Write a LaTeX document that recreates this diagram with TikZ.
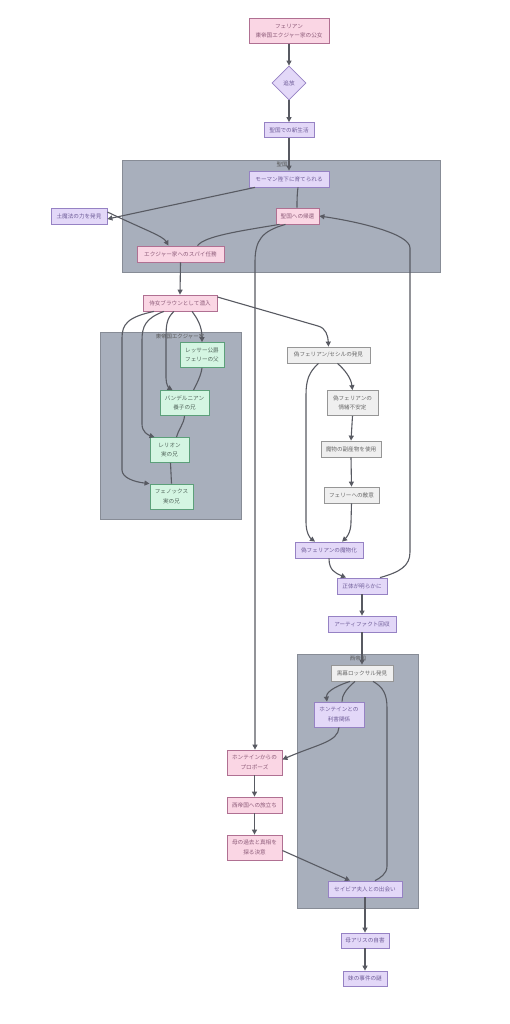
\documentclass[tikz,border=0pt]{standalone}
\usepackage{fontspec}
\setmainfont{Noto Sans CJK JP}
\usetikzlibrary{shapes.geometric,arrows.meta,calc}
\definecolor{pinkfill}{RGB}{250,214,228}
\definecolor{pinkdraw}{RGB}{176,112,146}
\definecolor{pinktext}{RGB}{140,90,120}
\definecolor{lavfill}{RGB}{227,216,248}
\definecolor{lavdraw}{RGB}{150,130,196}
\definecolor{lavtext}{RGB}{110,92,152}
\definecolor{grnfill}{RGB}{212,245,226}
\definecolor{grndraw}{RGB}{92,160,122}
\definecolor{grntext}{RGB}{80,100,90}
\definecolor{gryfill}{RGB}{239,239,239}
\definecolor{grydraw}{RGB}{150,150,150}
\definecolor{grytext}{RGB}{105,105,105}
\definecolor{clfill}{RGB}{168,175,188}
\definecolor{cldraw}{RGB}{135,140,150}
\definecolor{edgec}{RGB}{88,90,98}
\tikzset{
  base/.style={draw, line width=0.8pt, inner sep=0pt, align=center, font=\fontsize{5.6}{9.5}\selectfont},
  pinkbox/.style={base, fill=pinkfill, draw=pinkdraw, text=pinktext},
  lavbox/.style={base, fill=lavfill, draw=lavdraw, text=lavtext},
  grnbox/.style={base, fill=grnfill, draw=grndraw, text=grntext},
  grybox/.style={base, fill=gryfill, draw=grydraw, text=grytext},
  cluster/.style={draw=cldraw, fill=clfill, line width=0.6pt},
  cllabel/.style={font=\fontsize{5.4}{6}\selectfont, text=black!65, inner sep=0pt},
  arr/.style={draw=edgec, line width=1.1pt, -{Triangle[length=5pt,width=5pt]}},
  lnk/.style={draw=edgec, line width=1.1pt},
}
\begin{document}
\begin{tikzpicture}[x=1pt,y=-1pt]
\useasboundingbox (0,0) rectangle (509,1024);
\fill[white] (0,0) rectangle (509,1024);
% clusters
\draw[cluster] (122,160) rectangle (440,272);
\node[cllabel] (c1l) at (282,164.5) {聖国};
\draw[cluster] (100,332) rectangle (241,519);
\node[cllabel] (c2l) at (180,336.5) {東帝国エクジャー家};
\draw[cluster] (297,654) rectangle (418,908);
\node[cllabel] (c3l) at (358,658.5) {西帝国};
% nodes
\node[pinkbox, minimum width=80pt, minimum height=25pt] (n1) at (289,31) {フェリアン\\東帝国エクジャー家の公女};
\node[lavbox, diamond, minimum width=34pt, minimum height=34pt] (n2) at (289,83) {追放};
\node[lavbox, minimum width=50pt, minimum height=15pt] (n3) at (289,130) {聖国での新生活};
\node[lavbox, minimum width=80pt, minimum height=16pt] (n5) at (289,179) {モーマン陛下に育てられる};
\node[lavbox, minimum width=56pt, minimum height=16pt] (n6) at (79,216) {土魔法の力を発見};
\node[pinkbox, minimum width=43pt, minimum height=16pt] (n7) at (297.5,216) {聖国への帰還};
\node[pinkbox, minimum width=87pt, minimum height=16pt] (n8) at (180.5,254) {エクジャー家へのスパイ任務};
\node[pinkbox, minimum width=74pt, minimum height=16pt] (n9) at (180,303) {侍女ブラウンとして潜入};
\node[grnbox, minimum width=44pt, minimum height=25pt] (n11) at (202,355) {レッサー公爵\\フェリーの父};
\node[grnbox, minimum width=49pt, minimum height=25pt] (n12) at (184.5,403) {バンデルニアン\\養子の兄};
\node[grnbox, minimum width=39pt, minimum height=25pt] (n13) at (169.5,450) {レリオン\\実の兄};
\node[grnbox, minimum width=43pt, minimum height=25pt] (n14) at (171.5,496.5) {フェノックス\\実の兄};
\node[grybox, minimum width=83pt, minimum height=16pt] (n15) at (328.5,355) {偽フェリアン/セシルの発見};
\node[grybox, minimum width=51pt, minimum height=25pt] (n16) at (352.5,403) {偽フェリアンの\\情緒不安定};
\node[grybox, minimum width=60pt, minimum height=16pt] (n17) at (351,449) {魔物の副産物を使用};
\node[grybox, minimum width=55pt, minimum height=16pt] (n18) at (351.5,495) {フェリーへの敵意};
\node[lavbox, minimum width=68pt, minimum height=16pt] (n19) at (329,550) {偽フェリアンの魔物化};
\node[lavbox, minimum width=50pt, minimum height=16pt] (n20) at (362,586) {正体が明らかに};
\node[lavbox, minimum width=68pt, minimum height=16pt] (n21) at (362,624) {アーティファクト回収};
\node[grybox, minimum width=62pt, minimum height=16pt] (n23) at (362,673) {黒幕ロックサル発見};
\node[lavbox, minimum width=50pt, minimum height=25pt] (n24) at (339,714.5) {ホンテインとの\\利害関係};
\node[pinkbox, minimum width=55pt, minimum height=25pt] (n25) at (254.5,762.5) {ホンテインからの\\プロポーズ};
\node[pinkbox, minimum width=55pt, minimum height=16pt] (n26) at (254.5,805) {西帝国への旅立ち};
\node[pinkbox, minimum width=55pt, minimum height=25pt] (n27) at (254.5,847.5) {母の過去と真相を\\探る決意};
\node[lavbox, minimum width=74pt, minimum height=16pt] (n28) at (365,889) {セイビア夫人との出会い};
\node[lavbox, minimum width=48pt, minimum height=15pt] (n29) at (365,940.5) {母アリスの自害};
\node[lavbox, minimum width=44pt, minimum height=15pt] (n30) at (365,978.5) {妹の事件の謎};
% edges
\draw[arr] (n1.south) -- (n2.north);
\draw[arr] (n2.south) -- (n3.north);
\draw[arr] (n3.south) -- (n5.north);
\draw[arr] ([xshift=-34pt]n5.south) -- ([yshift=-3pt]n6.east);
\draw[arr] ([yshift=4pt]n6.east) .. controls (145,230) and (163,236) .. ([xshift=-12pt]n8.north);
\draw[lnk] ([xshift=9pt]n5.south) .. controls (297,195) and (297,200) .. ([xshift=-0.5pt]n7.north);
\draw[lnk] ([xshift=-18pt]n7.south) .. controls (240,231) and (205,236) .. ([xshift=17pt]n8.north);
\draw[arr] ([xshift=-12pt]n7.south) .. controls (262,231) and (255,240) .. (255,262) -- ([xshift=0.5pt]n25.north);
\draw[arr] ([xshift=18pt]n20.north) .. controls (400,572) and (410,566) .. (410,552) -- (410,248) .. controls (410,234) and (360,222) .. (n7.east);
\draw[arr] (n8.south) -- (n9.north);
\draw[arr] ([xshift=12pt]n9.south) .. controls (197,318) and (202,326) .. ([xshift=0pt]n11.north);
\draw[arr] ([xshift=-6pt]n9.south) .. controls (167,318) and (166,324) .. (166,338) -- (166,378) .. controls (166,385) and (169,388) .. ([xshift=-12pt]n12.north);
\draw[arr] ([xshift=-16pt]n9.south) .. controls (146,318) and (142,326) .. (142,340) -- (142,424) .. controls (142,432) and (148,435) .. ([xshift=-15pt]n13.north);
\draw[arr] ([xshift=-26pt]n9.south) .. controls (128,317) and (122,324) .. (122,338) -- (122,470) .. controls (122,478) and (135,482) .. ([xshift=-22pt]n14.north);
\draw[lnk] (n11.south) .. controls (201,376) and (196,385) .. ([xshift=9pt]n12.north);
\draw[lnk] (n12.south) .. controls (184,424) and (178,430) .. ([xshift=7pt]n13.north);
\draw[lnk] ([xshift=1pt]n13.south) -- (n14.north);
\draw[arr] ([yshift=6pt]n9.east) -- (318,326) .. controls (326,328) and (328,336) .. (n15.north);
\draw[arr] ([xshift=9pt]n15.south) .. controls (345,370) and (351,378) .. (n16.north);
\draw[arr] ([xshift=-10pt]n15.south) .. controls (309,372) and (306,380) .. (306,395) -- (306,522) .. controls (306,533) and (310,538) .. ([xshift=-14pt]n19.north);
\draw[arr] (n16.south) -- (n17.north);
\draw[arr] (n17.south) -- (n18.north);
\draw[arr] (n18.south) -- (351,522) .. controls (351,533) and (346,538) .. ([xshift=13pt]n19.north);
\draw[arr] (n19.south) .. controls (329,570) and (335,573) .. ([xshift=-16pt]n20.north);
\draw[arr] (n20.south) -- (n21.north);
\draw[arr] (n21.south) -- (n23.north);
\draw[arr] ([xshift=-12pt]n23.south) .. controls (330,688) and (326,694) .. ([xshift=-12pt]n24.north);
\draw[lnk] ([xshift=-7pt]n23.south) .. controls (345,690) and (342,696) .. ([xshift=3pt]n24.north);
\draw[lnk] ([xshift=11pt]n23.south) .. controls (383,687) and (387,694) .. (387,708) -- (387,866) .. controls (387,874) and (380,878) .. ([xshift=10pt]n28.north);
\draw[arr] (n24.south) .. controls (338,742) and (318,744) .. ([yshift=3pt]n25.east);
\draw[arr] (n25.south) -- (n26.north);
\draw[arr] (n26.south) -- (n27.north);
\draw[arr] ([yshift=-3pt]n27.east) -- ([xshift=-15pt]n28.north);
\draw[arr] (n28.south) -- (n29.north);
\draw[arr] (n29.south) -- (n30.north);
\end{tikzpicture}
\end{document}
